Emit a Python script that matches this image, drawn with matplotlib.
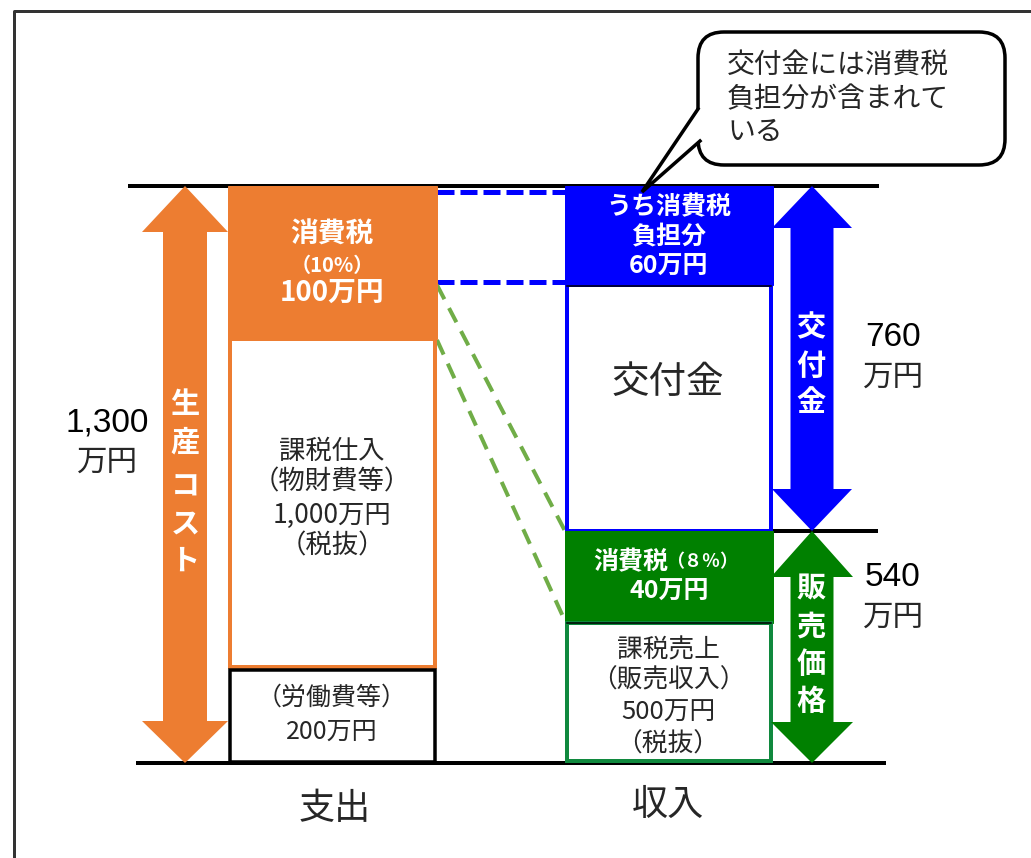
import matplotlib.pyplot as plt
from matplotlib.patches import Rectangle, Polygon, FancyBboxPatch

plt.rcParams['font.family'] = ['Noto Sans CJK JP', 'DejaVu Sans']

# values (万円)
expense_names = ['消費税', '課税仕入', '労働費等']
expense_values = [100, 1000, 200]
income_names = ['うち消費税負担分', '交付金', '消費税', '課税売上']
income_values = [60, 700, 40, 500]
tax_rates = ['10%', '８％']
column_labels = ['支出', '収入']
bubble_lines = ['交付金には消費税', '負担分が含まれて', 'いる']

cost_total = sum(expense_values)
grant_total = income_values[0] + income_values[1]
price_total = income_values[2] + income_values[3]

ORANGE = '#ED7D31'
BLUE = '#0000FF'
GREEN = '#008000'
GREEN_EDGE = '#10893E'
LGREEN = '#70AD47'
TXT = '#262626'

fig = plt.figure(figsize=(10.31, 8.58), dpi=100)
ax = fig.add_axes([0, 0, 1, 1])
ax.set_xlim(0, 1031)
ax.set_ylim(858, 0)
ax.axis('off')

PX = 0.72  # points per pixel


def box(x0, x1, y0, y1, fc, ec, lw, z=2):
    ax.add_patch(Rectangle((x0, y0), x1 - x0, y1 - y0, facecolor=fc,
                           edgecolor=ec, linewidth=lw * PX, zorder=z))


def double_arrow(xc, y0, y1, shaft, head, ht, hb, color):
    s, h = shaft / 2, head / 2
    pts = [(xc, y0), (xc + h, y0 + ht), (xc + s, y0 + ht), (xc + s, y1 - hb),
           (xc + h, y1 - hb), (xc, y1), (xc - h, y1 - hb), (xc - s, y1 - hb),
           (xc - s, y0 + ht), (xc - h, y0 + ht)]
    ax.add_patch(Polygon(pts, closed=True, facecolor=color, edgecolor='none', zorder=3))


def vtext(xc, ys, chars, size):
    for y, c in zip(ys, chars):
        ax.text(xc, y, c, color='white', fontsize=size, fontweight='bold',
                ha='center', va='center', zorder=5)


# outer frame
ax.plot([14, 14, 1031], [858, 11, 11], color='#333333', lw=3 * PX, zorder=1)

# guide lines
ax.plot([130, 877], [186, 186], color='black', lw=4 * PX, zorder=1)
ax.plot([138, 884], [763, 763], color='black', lw=4 * PX, zorder=1)
ax.plot([773, 876], [531, 531], color='black', lw=4 * PX, zorder=1)

# left column
box(228, 437, 186, 339, ORANGE, ORANGE, 1)
box(230, 435, 339, 667, 'white', ORANGE, 4)
box(230, 435, 670, 762, 'white', 'black', 3.5)

# right column
box(565, 773, 186, 285, BLUE, BLUE, 1)
box(567, 771, 285, 531, 'white', BLUE, 4)
box(565, 773, 531, 623, GREEN, GREEN, 1)
box(567, 771, 623, 761, 'white', GREEN_EDGE, 4)
ax.plot([567, 771], [286, 286], color='black', lw=1.5 * PX, zorder=3)
ax.plot([567, 771], [623, 623], color='black', lw=1.5 * PX, zorder=3)

# connectors
ax.plot([437, 565], [192, 192], color=BLUE, lw=5 * PX, ls=(0, (3.4, 1.2)), zorder=1)
ax.plot([437, 565], [282, 282], color=BLUE, lw=5 * PX, ls=(0, (3.4, 1.2)), zorder=1)
ax.plot([437, 565], [285, 531], color=LGREEN, lw=4 * PX, ls=(0, (4, 2.5)), zorder=1)
ax.plot([437, 565], [340, 621], color=LGREEN, lw=4 * PX, ls=(0, (4, 2.5)), zorder=1)

# arrows
double_arrow(185, 186, 763, 44, 86, 46, 42, ORANGE)
double_arrow(812, 186, 531, 43, 80, 42, 42, BLUE)
double_arrow(812, 531, 763, 43, 82, 46, 41, GREEN)
vtext(185, [404, 443, 487, 524, 561], '生産コスト', 21)
vtext(811, [327, 366, 402], '交付金', 21)
vtext(811, [588, 627, 664, 701], '販売価格', 21)

# totals
num_font = ['Liberation Sans', 'Noto Sans CJK JP']
ax.text(107, 423, f'{cost_total:,}', fontsize=24, ha='center', va='center',
        family=num_font, color='black')
ax.text(107, 462, '万円', fontsize=22, ha='center', va='center', color=TXT)
ax.text(893, 338, f'{grant_total}', fontsize=24, ha='center', va='center',
        family=num_font, color='black')
ax.text(893, 377, '万円', fontsize=22, ha='center', va='center', color=TXT)
ax.text(893, 578, f'{price_total}', fontsize=24, ha='center', va='center',
        family=num_font, color='black')
ax.text(893, 617, '万円', fontsize=22, ha='center', va='center', color=TXT)

# left box texts
ax.text(332, 235, expense_names[0], color='white', fontsize=20, fontweight='bold',
        ha='center', va='center', zorder=5)
ax.text(332, 265, f'（{tax_rates[0]}）', color='white', fontsize=14.5, fontweight='bold',
        ha='center', va='center', zorder=5)
ax.text(332, 293, f'{expense_values[0]}万円', color='white', fontsize=20,
        fontweight='bold', ha='center', va='center', zorder=5)
for y, s in zip([451, 482, 515, 546],
                [expense_names[1], '（物財費等）', f'{expense_values[1]:,}万円', '（税抜）']):
    ax.text(332, y, s, color=TXT, fontsize=19, ha='center', va='center', zorder=5)
ax.text(332, 698, f'（{expense_names[2]}）', color=TXT, fontsize=18,
        ha='center', va='center', zorder=5)
ax.text(332, 732, f'{expense_values[2]}万円', color=TXT, fontsize=18,
        ha='center', va='center', zorder=5)

# right box texts
for y, s in zip([207, 237, 267], ['うち消費税', '負担分', f'{income_values[0]}万円']):
    ax.text(669, y, s, color='white', fontsize=18, fontweight='bold',
            ha='center', va='center', zorder=5)
ax.text(668, 383, income_names[1], color=TXT, fontsize=27, ha='center',
        va='center', zorder=5)
ax.text(668, 562, income_names[2], color='white', fontsize=18, fontweight='bold',
        ha='right', va='center', zorder=5)
ax.text(666, 562, f'（{tax_rates[1]}）', color='white', fontsize=13, fontweight='bold',
        ha='left', va='center', zorder=5)
ax.text(669, 592, f'{income_values[2]}万円', color='white', fontsize=18,
        fontweight='bold', ha='center', va='center', zorder=5)
for y, s in zip([650, 680, 713, 745],
                [income_names[3], '（販売収入）', f'{income_values[3]}万円', '（税抜）']):
    ax.text(668, y, s, color=TXT, fontsize=18.5, ha='center', va='center', zorder=5)

# column labels
ax.text(335, 809, column_labels[0], color=TXT, fontsize=26, ha='center', va='center')
ax.text(668, 805, column_labels[1], color=TXT, fontsize=26, ha='center', va='center')

# speech bubble
ax.add_patch(FancyBboxPatch((698, 32), 307, 133,
                            boxstyle='round,pad=0,rounding_size=26',
                            facecolor='white', edgecolor='black',
                            linewidth=3.5 * PX, zorder=6))
tail = [(700, 108), (642, 192), (700, 142)]
ax.add_patch(Polygon(tail, closed=True, facecolor='white', edgecolor='none', zorder=7))
ax.plot([698, 642, 700], [109, 192, 141], color='black', lw=3.5 * PX, zorder=8,
        solid_joinstyle='miter')
for i, s in enumerate(bubble_lines):
    ax.text(727, 66 + 33 * i, s, color=TXT, fontsize=20, ha='left', va='center', zorder=9)

fig.savefig('out.png', dpi=100)
